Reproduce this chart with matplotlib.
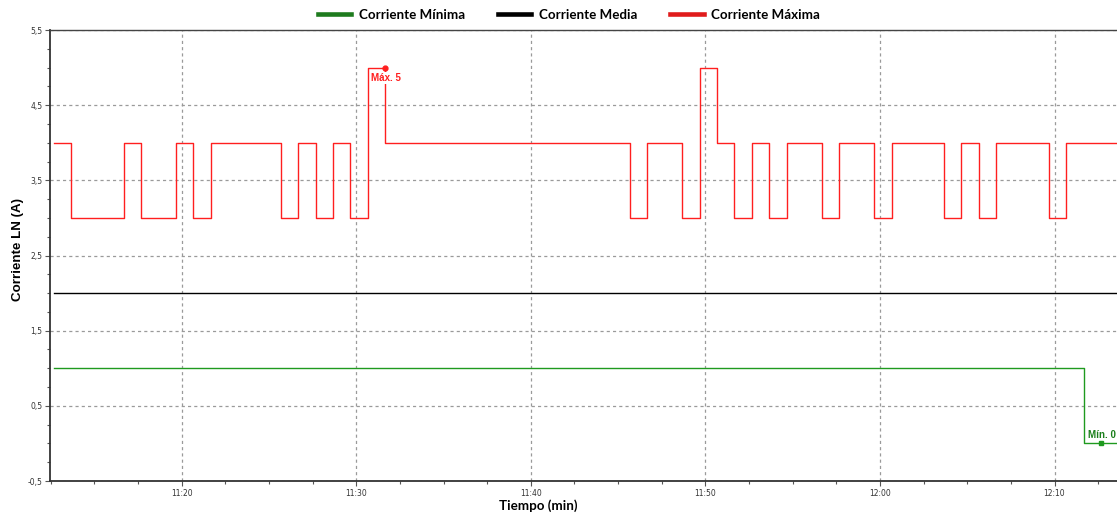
import numpy as np
import matplotlib
matplotlib.use('Agg')
import matplotlib.pyplot as plt
from matplotlib.ticker import MultipleLocator, FuncFormatter
from matplotlib.lines import Line2D

# muestras de 1 minuto a partir de las 11:12:40 (minutos desde las 11:00)
t_start = 12 + 40/60
corriente_max = [4, 4, 3, 3, 3, 4, 3, 3, 4, 3,
                 4, 4, 4, 4, 3, 4, 3, 4, 3, 5,
                 4, 4, 4, 4, 4, 4, 4, 4, 4, 4,
                 4, 4, 4, 4, 3, 4, 4, 3, 5, 4,
                 3, 4, 3, 4, 4, 3, 4, 4, 3, 4,
                 4, 4, 3, 4, 3, 4, 4, 4, 3, 4,
                 4, 4]
corriente_min = [1] * 60 + [0, 0]
corriente_media = [2] * 62
labels = ['Corriente Mínima', 'Corriente Media', 'Corriente Máxima']

t = t_start + np.arange(len(corriente_max))

C_MIN = '#1f9a1f'
C_MED = '#000000'
C_MAX = '#ff1f1f'

W, H = 1117, 518
fig = plt.figure(figsize=(W/100, H/100), dpi=100)
ax = fig.add_axes([50/W, 37/H, 1067/W, 451/H])

ax.plot(t, corriente_min, color=C_MIN, lw=1.0, drawstyle='steps-pre')
ax.plot(t, corriente_media, color=C_MED, lw=1.0, drawstyle='steps-pre')
ax.plot(t, corriente_max, color=C_MAX, lw=1.0, drawstyle='steps-pre')

# maximo y minimo
i_max = int(np.argmax(corriente_max))
i_min = int(np.argmin(corriente_min))
ax.plot(t[i_max], corriente_max[i_max], 'o', color=C_MAX, ms=3.5, zorder=4)
ax.plot(t[i_min], corriente_min[i_min], 's', color=C_MIN, ms=3, zorder=4)
ax.annotate('Máx. %d' % corriente_max[i_max], (t[i_max], corriente_max[i_max]),
            xytext=(-14, -5), textcoords='offset pixels', ha='left', va='top',
            color=C_MAX, fontsize=7, fontweight='bold', family='Liberation Sans',
            bbox=dict(boxstyle='square,pad=0.1', fc='white', ec='none'), zorder=5)
ax.annotate('Mín. %d' % corriente_min[i_min], (t[i_min], corriente_min[i_min]),
            xytext=(-13, 3), textcoords='offset pixels', ha='left', va='bottom',
            color='#1a7f1a', fontsize=7, fontweight='bold', family='Liberation Sans',
            annotation_clip=False)

ax.set_xlim(12.455, 73.58)
ax.set_ylim(-0.5, 5.5)

ax.xaxis.set_major_locator(MultipleLocator(10))
ax.xaxis.set_minor_locator(MultipleLocator(2.5))
ax.xaxis.set_major_formatter(FuncFormatter(
    lambda x, pos: '%d:%02d' % (11 + int(round(x)) // 60, int(round(x)) % 60)))
ax.set_yticks(np.arange(-0.5, 5.51, 1.0))
ax.yaxis.set_minor_locator(MultipleLocator(0.25))
ax.yaxis.set_major_formatter(FuncFormatter(lambda y, pos: ('%.1f' % y).replace('.', ',')))

ax.tick_params(which='both', direction='out', colors='#555555', labelcolor='#333333',
               labelsize=5.5, width=0.8)
ax.tick_params(which='major', length=3.5, pad=2)
ax.tick_params(which='minor', length=2.5)
ax.grid(True, which='major', color='#9a9a9a', linestyle=(0, (2.5, 2.5)), lw=0.9)

for s in ['left', 'bottom']:
    ax.spines[s].set_color('#333333')
    ax.spines[s].set_linewidth(1.3)
ax.spines['top'].set_color('#444444')
ax.spines['top'].set_linewidth(1.0)
ax.spines['right'].set_visible(False)

fig.text(18/W, 1 - 250/H, 'Corriente LN (A)', rotation=90, ha='center', va='center',
         fontsize=9.6, fontweight='bold', family='Liberation Sans')
fig.text(538/W, 1 - 506/H, 'Tiempo (min)', ha='center', va='center',
         fontsize=9.6, fontweight='bold', family='Lato')

handles = [Line2D([], [], color='#1e7b1e', lw=3.3),
           Line2D([], [], color='#000000', lw=3.3),
           Line2D([], [], color='#e01b1b', lw=3.3)]
fig.legend(handles, labels, loc='center', bbox_to_anchor=(569/W, 1 - 15/H), ncol=3,
           frameon=False, handlelength=2.5, handletextpad=0.55, columnspacing=2.5,
           prop={'family': 'Lato', 'weight': 'bold', 'size': 9.6})

fig.savefig('out.png', dpi=100)
